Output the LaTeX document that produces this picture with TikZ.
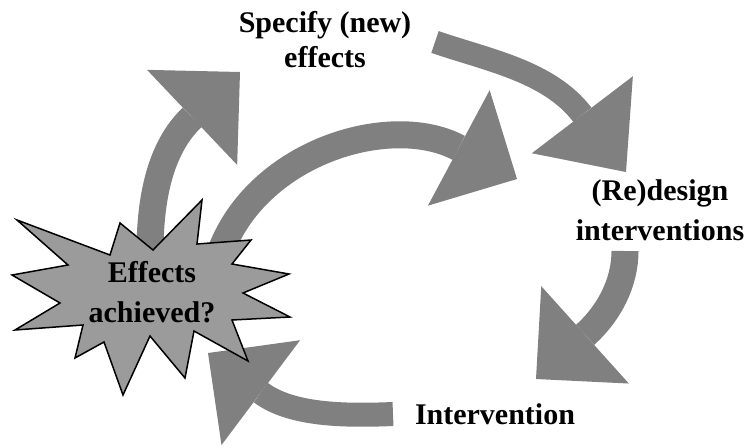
\documentclass[tikz,border=0pt]{standalone}
\usepackage{fontspec}
\setmainfont{Liberation Serif}
\usetikzlibrary{arrows.meta}

\definecolor{arrowgray}{RGB}{128,128,128}
\definecolor{burstgray}{RGB}{155,155,155}

\tikzset{
  bigarrow/.style={arrowgray, line width=27pt,
    -{Triangle[width=131pt,length=66pt,line width=0pt]}},
  textlbl/.style={font=\fontsize{30}{40}\selectfont\bfseries, align=center, inner sep=0pt},
}

\begin{document}
\begin{tikzpicture}[x=1pt, y=-1pt]
    \useasboundingbox (0,0) rectangle (746,447);

    % Arrow ends
    \coordinate (burst-up) at (150,252);
    \coordinate (specify-in) at (240,72);
    \coordinate (burst-right) at (216,266);
    \coordinate (redesign-in1) at (517,179);
    \coordinate (specify-out) at (435,42);
    \coordinate (redesign-in2) at (626,172);
    \coordinate (redesign-out) at (625,251);
    \coordinate (interv-in) at (536,379);
    \coordinate (interv-out) at (393,414);
    \coordinate (burst-in) at (208,353);

    % Arrows
    \draw[bigarrow] (burst-up) .. controls (150,200) and (159.6,148.2) .. (specify-in);
    \draw[bigarrow] (burst-right) .. controls (245.8,154.9) and (388.2,110.2) .. (redesign-in1);
    \draw[bigarrow, line width=23pt, -{Triangle[width=127pt,length=72pt,line width=0pt]}]
        (specify-out) .. controls (487,59.9) and (549.1,71.1) .. (redesign-in2);
    \draw[bigarrow] (redesign-out) .. controls (625,283) and (608.9,313.4) .. (interv-in);
    \draw[bigarrow, line width=24pt] (interv-out) .. controls (345,416) and (291.2,415.4) .. (burst-in);

    % Starburst
    \draw[fill=burstgray, line width=1.5pt, line join=miter]
        (12,275) -- (68,265) -- (17,220) -- (110,255) -- (120,223) -- (153,250)
        -- (202,200) -- (197,244) -- (251,240) -- (232,264) -- (289,274) -- (243,293)
        -- (290,317) -- (232,320) -- (248,361) -- (194,331) -- (185,378) -- (150,336)
        -- (123,395) -- (104,342) -- (75,358) -- (83,325) -- (15,330) -- (60,303) -- cycle;

    % Labels
    \node[textlbl] (effects) at (152,292) {Effects\\achieved?};
    \node[textlbl] (specify) at (325,40) {Specify (new)\\[-5pt]effects};
    \node[textlbl] (redesign) at (660,210) {(Re)design\\interventions};
    \node[textlbl] (interv) at (495,414) {Intervention};
\end{tikzpicture}
\end{document}
